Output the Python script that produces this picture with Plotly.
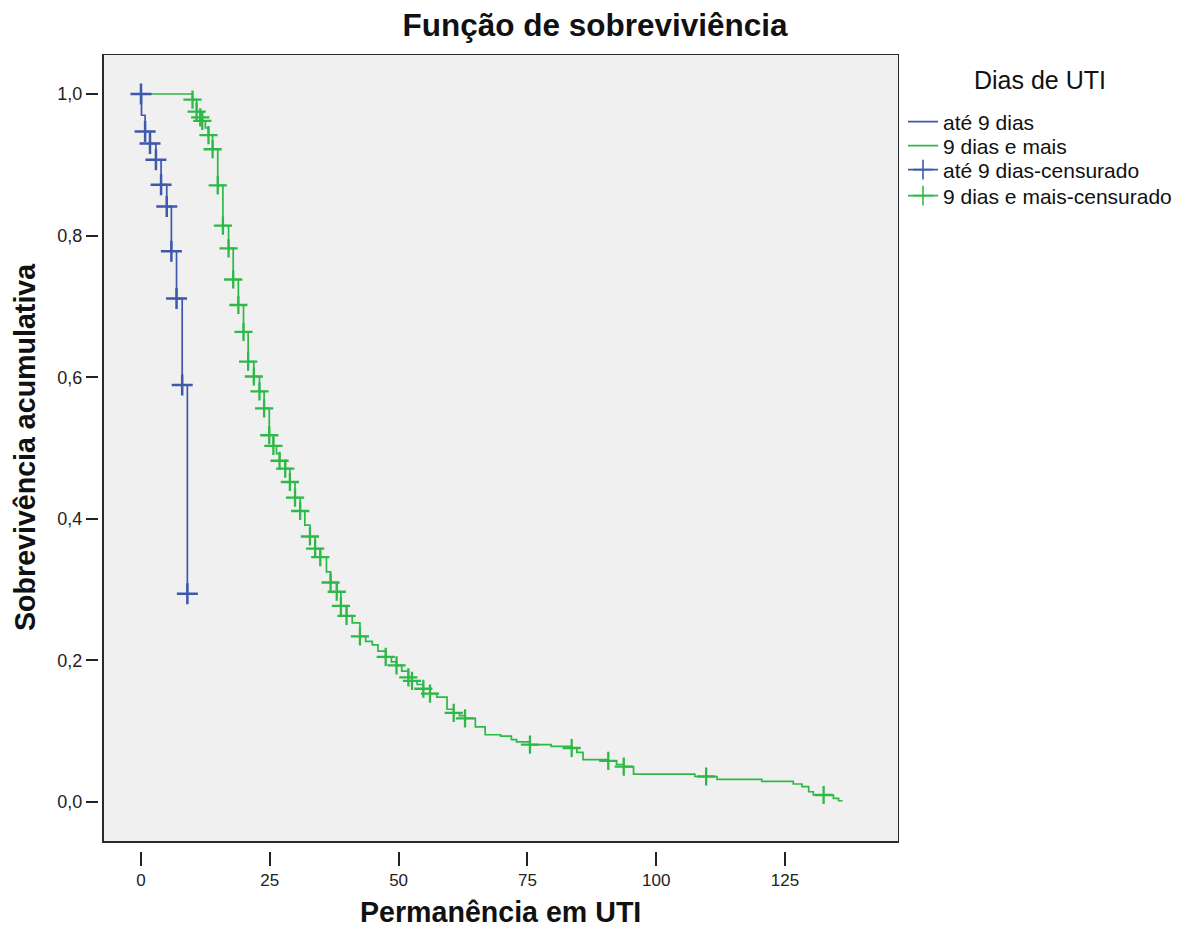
import plotly.graph_objects as go

# ---------------- data ----------------
blue_time = [0, 0.1, 0.8, 1.75, 2.9, 3.9, 5.0, 5.9, 6.9, 8.0, 9.0]
blue_surv = [1.0, 0.970, 0.947, 0.930, 0.907, 0.872, 0.841, 0.778, 0.711, 0.589, 0.294]
blue_cens_time = [0, 0.8, 1.75, 2.9, 3.9, 5.0, 5.9, 6.9, 8.0, 9.0]
blue_cens_surv = [1.0, 0.947, 0.930, 0.907, 0.872, 0.841, 0.778, 0.711, 0.589, 0.294]

green_time = [0, 10.0, 10.8, 11.5, 11.9, 12.5, 13.1, 13.9, 14.9, 15.9, 17.0, 17.9, 18.9,
              19.9, 20.8, 21.9, 23.0, 23.9, 24.9, 25.7, 26.3, 26.9, 28.0, 28.9, 29.9, 30.9,
              31.8, 32.8, 33.8, 34.8, 36.0, 36.8, 38.0, 38.8, 39.9, 41.0, 42.5, 43.6, 44.9,
              46.0, 47.5, 48.6, 49.6, 50.6, 51.9, 52.6, 53.6, 54.8, 56.1, 57.4, 59.4, 60.7,
              61.8, 62.9, 64.9, 66.8, 69.8, 71.9, 72.9, 75.5, 79.6, 83.6, 84.6, 85.8, 90.7,
              92.3, 93.7, 95.6, 107.5, 111.8, 120.5, 126.6, 128.3, 129.6, 130.5, 134.4,
              135.4, 136.2]
green_surv = [1.0, 0.992, 0.975, 0.967, 0.962, 0.952, 0.942, 0.922, 0.871, 0.814, 0.782,
              0.738, 0.702, 0.664, 0.622, 0.601, 0.580, 0.556, 0.518, 0.503, 0.492, 0.482,
              0.471, 0.452, 0.430, 0.411, 0.391, 0.375, 0.358, 0.346, 0.325, 0.310, 0.297,
              0.277, 0.263, 0.253, 0.234, 0.227, 0.222, 0.213, 0.205, 0.198, 0.193, 0.185,
              0.176, 0.171, 0.166, 0.160, 0.153, 0.148, 0.131, 0.126, 0.122, 0.118, 0.106,
              0.095, 0.093, 0.088, 0.085, 0.081, 0.0785, 0.0763, 0.070, 0.060, 0.058, 0.053,
              0.050, 0.0395, 0.036, 0.032, 0.029, 0.0254, 0.0216, 0.0145, 0.0099, 0.0052,
              0.0018, 0.0018]
green_cens_time = [10.0, 10.8, 11.5, 11.9, 13.1, 13.9, 14.9, 15.9, 17.0, 17.9, 18.9, 19.9,
                   20.8, 21.9, 23.0, 23.9, 24.9, 25.7, 26.9, 28.0, 28.9, 29.9, 30.9, 32.8,
                   33.8, 34.8, 36.8, 38.0, 38.8, 39.9, 42.5, 47.5, 49.6, 51.9, 52.6, 54.8,
                   56.1, 60.7, 62.9, 75.5, 83.6, 90.7, 93.7, 109.7, 132.5]
green_cens_surv = [0.992, 0.975, 0.967, 0.962, 0.942, 0.922, 0.871, 0.814, 0.782, 0.738,
                   0.702, 0.664, 0.622, 0.601, 0.580, 0.556, 0.518, 0.503, 0.482, 0.471,
                   0.452, 0.430, 0.411, 0.375, 0.358, 0.346, 0.310, 0.297, 0.277, 0.263,
                   0.234, 0.205, 0.193, 0.176, 0.171, 0.160, 0.153, 0.126, 0.118, 0.081,
                   0.0763, 0.058, 0.050, 0.036, 0.0099]

x_ticks = [0, 25, 50, 75, 100, 125]
y_ticks = [0.0, 0.2, 0.4, 0.6, 0.8, 1.0]
y_ticktext = ["0,0", "0,2", "0,4", "0,6", "0,8", "1,0"]

names = ["até 9 dias", "9 dias e mais", "até 9 dias-censurado", "9 dias e mais-censurado"]
legend_title = "Dias de UTI"

BLUE = "#3E58AC"
GREEN = "#2EB848"
FONT = "Liberation Sans, Arial, sans-serif"
NARROW = "Liberation Sans Narrow, Liberation Sans, Arial, sans-serif"

fig = go.Figure()

# step curves
fig.add_trace(go.Scatter(x=blue_time, y=blue_surv, mode="lines",
                         line=dict(color=BLUE, width=1.7, shape="hv"),
                         name=names[0], legend="legend"))
fig.add_trace(go.Scatter(x=green_time, y=green_surv, mode="lines",
                         line=dict(color=GREEN, width=1.7, shape="hv"),
                         name=names[1], legend="legend2"))
# censored marks
fig.add_trace(go.Scatter(x=blue_cens_time, y=blue_cens_surv, mode="markers",
                         marker=dict(symbol="cross-thin", size=15, line=dict(color=BLUE, width=2.5)),
                         name=names[2], showlegend=False))
fig.add_trace(go.Scatter(x=green_cens_time, y=green_cens_surv, mode="markers",
                         marker=dict(symbol="cross-thin", size=13, line=dict(color=GREEN, width=2.3)),
                         name=names[3], showlegend=False))
# legend entries for censored (line + cross)
fig.add_trace(go.Scatter(x=[None], y=[None], mode="lines+markers",
                         line=dict(color=BLUE, width=1.6),
                         marker=dict(symbol="cross-thin", size=14, line=dict(color=BLUE, width=1.6)),
                         name=names[2], legend="legend3"))
fig.add_trace(go.Scatter(x=[None], y=[None], mode="lines+markers",
                         line=dict(color=GREEN, width=1.6),
                         marker=dict(symbol="cross-thin", size=14, line=dict(color=GREEN, width=1.6)),
                         name=names[3], legend="legend4"))

# frame / plot background (SPSS style, detached from tick area)
fig.add_shape(type="rect", xref="x", yref="y", x0=-7.376, x1=147.13, y0=-0.0565, y1=1.0565,
              line=dict(color="#2a2a2a", width=2), fillcolor="#F0F0F0", layer="below")

# plot area: left 99, right 899, top 54, bottom 851 (px)
def py(p):
    return (851 - p) / 797.0

def px(p):
    return (p - 99) / 800.0

leg_common = dict(x=px(903), xanchor="left", yanchor="middle", bgcolor="rgba(0,0,0,0)",
                  font=dict(family=FONT, size=21, color="#111"), itemwidth=30)
row_y = [122, 146, 170, 196]

fig.update_layout(
    width=1192, height=927,
    margin=dict(l=99, r=293, t=54, b=76),
    paper_bgcolor="white", plot_bgcolor="white",
    font=dict(family=FONT, color="#222222"),
    title=dict(text="Função de sobreviviência", x=595 / 1192, xref="container", xanchor="center",
               y=1 - 25 / 927, yref="container", yanchor="middle",
               font=dict(family=FONT, size=31.5, weight="bold", color="#111111")),
    xaxis=dict(range=[-8.15, 147.13], tickvals=x_ticks, ticks="outside", ticklen=14, tickwidth=1.5,
               tickcolor="#222", showgrid=False, zeroline=False, showline=False,
               tickfont=dict(family=NARROW, size=17, color="#222")),
    yaxis=dict(range=[-0.0692, 1.0565], tickvals=y_ticks, ticktext=y_ticktext, ticks="outside",
               ticklen=12, tickwidth=1.5, tickcolor="#222", showgrid=False, zeroline=False,
               showline=False, tickfont=dict(family=FONT, size=18, color="#222")),
    legend=dict(y=py(row_y[0]), **leg_common),
    legend2=dict(y=py(row_y[1]), **leg_common),
    legend3=dict(y=py(row_y[2]), **leg_common),
    legend4=dict(y=py(row_y[3]), **leg_common),
    annotations=[
        dict(text=legend_title, xref="paper", yref="paper", x=px(1040), y=py(80),
             xanchor="center", yanchor="middle", showarrow=False,
             font=dict(family=FONT, size=25, color="#111")),
        dict(text="Permanência em UTI", xref="paper", yref="paper", x=px(500), y=py(912),
             xanchor="center", yanchor="middle", showarrow=False,
             font=dict(family=FONT, size=28.6, weight="bold", color="#111")),
        dict(text="Sobrevivência acumulativa", xref="paper", yref="paper", x=px(25), y=py(447),
             xanchor="center", yanchor="middle", textangle=-90, showarrow=False,
             font=dict(family=FONT, size=28.6, weight="bold", color="#111")),
    ],
)

fig.write_html("out.html", config={"displayModeBar": False},
               post_script="document.body.style.margin='0px';document.body.style.overflow='hidden';")
